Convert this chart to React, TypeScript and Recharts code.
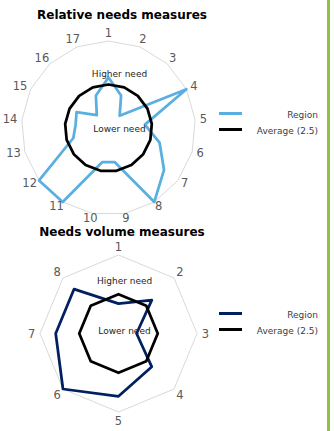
import React from 'react'
import {
  RadarChart,
  Radar,
  PolarGrid,
  PolarAngleAxis,
  PolarRadiusAxis,
  Legend,
} from 'recharts'

const relativeAxes = ['1', '2', '3', '4', '5', '6', '7', '8', '9', '10', '11', '12', '13', '14', '15', '16', '17']
const relativeRegion = [2.9, 2.0, 0.95, 5, 2.1, 3.05, 4.0, 5, 2.0, 2.0, 5, 5, 2.1, 1.9, 2.05, 1.0, 2.0]
const relativeAverage = [2.5, 2.5, 2.5, 2.5, 2.5, 2.5, 2.5, 2.5, 2.5, 2.5, 2.5, 2.5, 2.5, 2.5, 2.5, 2.5, 2.5]

const volumeAxes = ['1', '2', '3', '4', '5', '6', '7', '8']
const volumeRegion = [1.9, 3.0, 1.15, 3.0, 4.0, 5.0, 4.0, 4.0]
const volumeAverage = [2.5, 2.5, 2.5, 2.5, 2.5, 2.5, 2.5, 2.5]

const seriesNames = ['Region', 'Average (2.5)']

const FONT = '"DejaVu Sans", Verdana, sans-serif'
const RAD = Math.PI / 180

const relativeData = relativeAxes.map((axis, i) => ({
  axis,
  region: relativeRegion[i],
  average: relativeAverage[i],
}))
const volumeData = volumeAxes.map((axis, i) => ({
  axis,
  region: volumeRegion[i],
  average: volumeAverage[i],
}))

// tick label placed just outside the vertex, roughly like Excel does it
function makeTick(cx: number, cy: number, r: number, upH: number, downH: number) {
  return function AngleTick(props: any) {
    const { payload } = props
    const ang = payload.coordinate * RAD
    const ux = Math.cos(ang)
    const uy = Math.sin(ang)
    const halfW = String(payload.value).length * 3.4
    const gap = 5
    const x = cx + (r + gap) * ux + ux * halfW
    const y = cy - (r + gap) * uy - uy * (uy > 0 ? upH : downH)
    return (
      <text
        x={x}
        y={y}
        textAnchor="middle"
        dominantBaseline="central"
        fontSize={11.5}
        fontFamily={FONT}
        fill="#595959"
      >
        {payload.value}
      </text>
    )
  }
}

function LegendBox({ payload }: any) {
  const items = [...(payload || [])].sort(
    (a: any, b: any) => seriesNames.indexOf(a.value) - seriesNames.indexOf(b.value)
  )
  return (
    <div style={{ width: 99, fontFamily: FONT }}>
      {items.map((e: any) => (
        <div key={e.value} style={{ display: 'flex', alignItems: 'center', height: 16 }}>
          <span
            style={{
              display: 'inline-block',
              width: 23,
              height: 3,
              background: e.payload?.stroke ?? e.color,
              position: 'relative',
              top: -1,
            }}
          />
          <span style={{ flex: 1, textAlign: 'right', fontSize: 9, color: '#404040', position: 'relative', top: 1 }}>
            {e.value}
          </span>
        </div>
      ))}
    </div>
  )
}

function Title({ text, top }: { text: string; top: number }) {
  return (
    <div
      style={{
        position: 'absolute',
        left: 0,
        width: 244,
        top,
        textAlign: 'center',
        fontFamily: FONT,
        fontWeight: 'bold',
        fontSize: 12,
        color: '#000',
        lineHeight: '14px',
      }}
    >
      {text}
    </div>
  )
}

function Note({ text, x, y }: { text: string; x: number; y: number }) {
  return (
    <div
      style={{
        position: 'absolute',
        left: x - 40,
        width: 80,
        top: y - 6,
        textAlign: 'center',
        fontFamily: FONT,
        fontSize: 9,
        lineHeight: '12px',
        color: '#262626',
        pointerEvents: 'none',
      }}
    >
      {text}
    </div>
  )
}

const TOP = { cx: 108.5, cy: 128, r: 87 }
const BOT = { cx: 118.5, cy: 113.5, r: 78.5 }

export default function App() {
  return (
    <div
      style={{
        position: 'absolute',
        left: 0,
        top: 0,
        width: 334,
        height: 431,
        background: '#fff',
        overflow: 'hidden',
      }}
    >
      <div style={{ position: 'absolute', left: 0, top: 0 }}>
        <RadarChart
          width={326}
          height={231}
          data={relativeData}
          cx={TOP.cx}
          cy={TOP.cy}
          outerRadius={TOP.r}
          startAngle={90}
          endAngle={-270}
          margin={{ top: 0, right: 0, bottom: 0, left: 0 }}
        >
          <PolarGrid polarRadius={[TOP.r]} radialLines={false} gridType="polygon" stroke="#d9d9d9" />
          <PolarAngleAxis
            dataKey="axis"
            tick={makeTick(TOP.cx, TOP.cy, TOP.r, 3, 0)}
            tickLine={false}
            axisLine={false}
          />
          <PolarRadiusAxis domain={[0, 5]} tick={false} axisLine={false} tickCount={6} />
          <Radar
            name="Region"
            dataKey="region"
            stroke="#5aafe1"
            fill="#5aafe1"
            fillOpacity={0}
            strokeWidth={2.75}
            strokeLinejoin="round"
            dot={false}
            isAnimationActive={false}
          />
          <Radar
            name="Average (2.5)"
            dataKey="average"
            stroke="#000000"
            fill="#000000"
            fillOpacity={0}
            strokeWidth={2.75}
            strokeLinejoin="round"
            dot={false}
            isAnimationActive={false}
          />
          <Legend
            content={<LegendBox />}
            wrapperStyle={{ left: 219, top: 106, width: 99, right: 'auto', bottom: 'auto' }}
          />
        </RadarChart>
      </div>

      <div style={{ position: 'absolute', left: 0, top: 220 }}>
        <RadarChart
          width={326}
          height={211}
          data={volumeData}
          cx={BOT.cx}
          cy={BOT.cy}
          outerRadius={BOT.r}
          startAngle={90}
          endAngle={-270}
          margin={{ top: 0, right: 0, bottom: 0, left: 0 }}
        >
          <PolarGrid polarRadius={[BOT.r]} radialLines={false} gridType="polygon" stroke="#d9d9d9" />
          <PolarAngleAxis
            dataKey="axis"
            tick={makeTick(BOT.cx, BOT.cy, BOT.r, 3.5, 4)}
            tickLine={false}
            axisLine={false}
          />
          <PolarRadiusAxis domain={[0, 5]} tick={false} axisLine={false} tickCount={6} />
          <Radar
            name="Region"
            dataKey="region"
            stroke="#002060"
            fill="#002060"
            fillOpacity={0}
            strokeWidth={2.75}
            strokeLinejoin="round"
            dot={false}
            isAnimationActive={false}
          />
          <Radar
            name="Average (2.5)"
            dataKey="average"
            stroke="#000000"
            fill="#000000"
            fillOpacity={0}
            strokeWidth={2.75}
            strokeLinejoin="round"
            dot={false}
            isAnimationActive={false}
          />
          <Legend
            content={<LegendBox />}
            wrapperStyle={{ left: 219, top: 86, width: 99, right: 'auto', bottom: 'auto' }}
          />
        </RadarChart>
      </div>

      <Title text="Relative needs measures" top={8} />
      <Title text="Needs volume measures" top={225} />

      <Note text="Higher need" x={119.5} y={73.5} />
      <Note text="Lower need" x={119.5} y={129} />
      <Note text="Higher need" x={124.7} y={281} />
      <Note text="Lower need" x={124.5} y={331} />

      <div style={{ position: 'absolute', left: 327, top: 0, width: 3, height: 431, background: '#8cc23f' }} />
    </div>
  )
}
